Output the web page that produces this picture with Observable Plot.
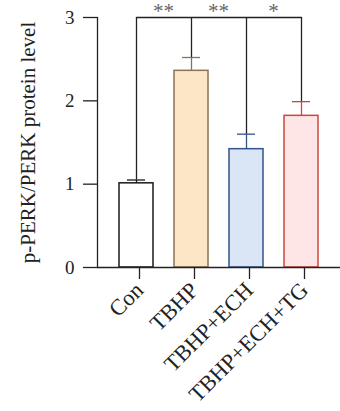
<!DOCTYPE html>
<html>
<head>
<meta charset="utf-8">
<script src="https://cdn.jsdelivr.net/npm/d3@7"></script>
<script src="https://cdn.jsdelivr.net/npm/@observablehq/plot@0.6"></script>
<style>
  html, body { margin: 0; padding: 0; background: #fff; }
  #chart { width: 340px; height: 411px; }
</style>
</head>
<body>
<div id="chart"></div>
<script>
const categories = ["Con", "TBHP", "TBHP+ECH", "TBHP+ECH+TG"];
const means = [1.01, 2.36, 1.42, 1.82];
const errTops = [1.05, 2.52, 1.60, 1.99];
const fills = ["#ffffff", "#fde6c6", "#dae6f6", "#fee6e6"];
const strokes = ["#1a1a1a", "#8a7357", "#34538a", "#d0453e"];
const sigFrom = ["Con", "TBHP", "TBHP+ECH"];
const sigLabels = ["**", "**", "*"];
const yTicks = [0, 1, 2, 3];
const bracketLevel = 3;
const yLabel = "p-PERK/PERK protein level";

const data = categories.map((c, i) => ({cat: c, mean: means[i], err: errTops[i], fill: fills[i], stroke: strokes[i]}));
const sigs = sigFrom.map((c, i) => ({cat: c, label: sigLabels[i]}));
const bracket = [{cat: categories[0]}, {cat: categories[categories.length - 1]}];

const chart = Plot.plot({
  width: 340,
  height: 411,
  marginLeft: 97,
  marginRight: 0,
  marginTop: 17,
  marginBottom: 144,
  style: {fontFamily: "'Liberation Serif', 'Times New Roman', serif", fontSize: "18px", color: "#222", background: "#fff"},
  x: {type: "band", domain: categories, paddingInner: 0.38, paddingOuter: 0.36},
  y: {domain: [0, 3]},
  color: {type: "identity"},
  marks: [
    Plot.barY(data, {x: "cat", y: "mean", fill: "fill", stroke: "stroke", strokeWidth: 1.5}),
    Plot.ruleX(data, {x: "cat", y1: "mean", y2: "err", stroke: "stroke", strokeWidth: 1.3}),
    Plot.tickY(data, {x: "cat", y: "err", stroke: "stroke", strokeWidth: 1.3, insetLeft: 8, insetRight: 8}),
    Plot.ruleX(data, {x: "cat", y1: "err", y2: () => bracketLevel, stroke: "#222", strokeWidth: 1.3}),
    Plot.lineY(bracket, {x: "cat", y: () => bracketLevel, stroke: "#222", strokeWidth: 1.3}),
    Plot.text(sigs, {x: "cat", y: () => bracketLevel, text: "label", dx: 27, dy: -6, fill: "#666", fontSize: 21}),
    Plot.ruleY([0], {stroke: "#222", strokeWidth: 1.3}),
    Plot.frame({anchor: "left", stroke: "#222", strokeWidth: 1.3}),
    Plot.axisY({ticks: yTicks, tickSize: 14, tickPadding: 9, tickFormat: d3.format("d"), strokeWidth: 1.3, stroke: "#222",
      label: null, fontSize: 19}),
    Plot.text([yLabel], {frameAnchor: "left", textAnchor: "middle", rotate: -90, dx: -69, text: d => d, fontSize: 21, fill: "#222"}),
    Plot.axisX({tickSize: 12, tickRotate: -45, tickPadding: 7, label: null, fontSize: 22.5, dx: 3, strokeWidth: 1.3, stroke: "#222"})
  ]
});
document.getElementById("chart").appendChild(chart);
</script>
</body>
</html>
